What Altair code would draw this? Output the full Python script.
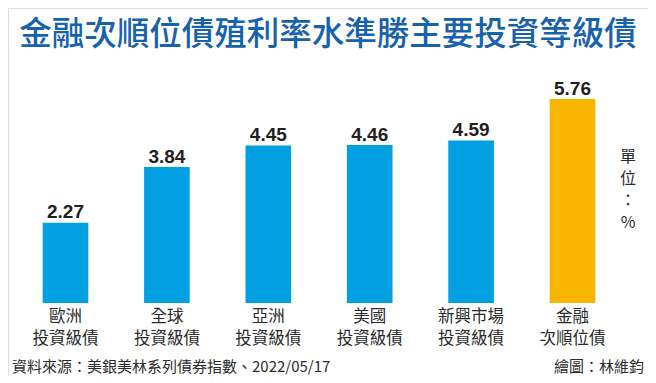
import altair as alt
import pandas as pd

categories = ["歐洲\n投資級債", "全球\n投資級債", "亞洲\n投資級債", "美國\n投資級債", "新興市場\n投資級債", "金融\n次順位債"]
values = [2.27, 3.84, 4.45, 4.46, 4.59, 5.76]
groups = ["ig", "ig", "ig", "ig", "ig", "sub"]

title_text = "金融次順位債殖利率水準勝主要投資等級債"
source_text = "資料來源：美銀美林系列債券指數、2022/05/17"
credit_text = "繪圖：林維鈞"
unit_text = "單\n位\n：\n%"

df = pd.DataFrame({"cat": categories, "val": values, "grp": groups,
                   "lab": [f"{v:.2f}" for v in values]})

CJK = "Noto Sans CJK TC"
W, H = 640, 367

x = alt.X("cat:N", sort=categories, axis=None,
          scale=alt.Scale(range=[14.4, 607.6], paddingInner=0.55, paddingOuter=0.2))
y = alt.Y("val:Q", axis=None, scale=alt.Scale(domain=[0, 6], range=[295, 82.6]))

bars = alt.Chart(df).mark_bar().encode(
    x=x, y=y,
    color=alt.Color("grp:N", legend=None,
                    scale=alt.Scale(domain=["ig", "sub"], range=["#00a0e2", "#f8b500"])),
)

labels = alt.Chart(df).mark_text(
    font="Liberation Sans", fontWeight="bold", fontSize=19, color="#231f20",
    baseline="alphabetic", dy=-4.5,
).encode(x=x, y=y, text="lab:N")

cat_text = alt.Chart(df).mark_text(
    font=CJK, fontSize=16.5, color="#2b2b2b", lineBreak="\n", lineHeight=22,
    baseline="top", align="center",
).encode(x=x, y=alt.value(301), text="cat:N")

meta = pd.DataFrame({"t": [title_text]})
title = alt.Chart(meta).mark_text(
    font=CJK, fontSize=32.5, fontWeight=500, color="#1762ad", baseline="middle", align="center",
).encode(x=alt.value(320), y=alt.value(27), text="t:N")

src = alt.Chart(pd.DataFrame({"t": [source_text]})).mark_text(
    font=CJK, fontSize=15, color="#2b2b2b", baseline="middle", align="left",
).encode(x=alt.value(4), y=alt.value(358.5), text="t:N")

cred = alt.Chart(pd.DataFrame({"t": [credit_text]})).mark_text(
    font=CJK, fontSize=15, color="#2b2b2b", baseline="middle", align="right",
).encode(x=alt.value(636), y=alt.value(358.5), text="t:N")

unit = alt.Chart(pd.DataFrame({"t": [unit_text]})).mark_text(
    font=CJK, fontSize=16, color="#2b2b2b", baseline="top", align="center",
    lineBreak="\n", lineHeight=22,
).encode(x=alt.value(620), y=alt.value(141), text="t:N")

chart = alt.layer(bars, labels, cat_text, title, src, cred, unit).properties(
    width=W, height=H,
    autosize=alt.AutoSizeParams(type="none"),
    padding=0,
).configure_view(stroke=None).configure(background="white")

chart.save("out.html", embed_options={"renderer": "svg", "actions": False})
